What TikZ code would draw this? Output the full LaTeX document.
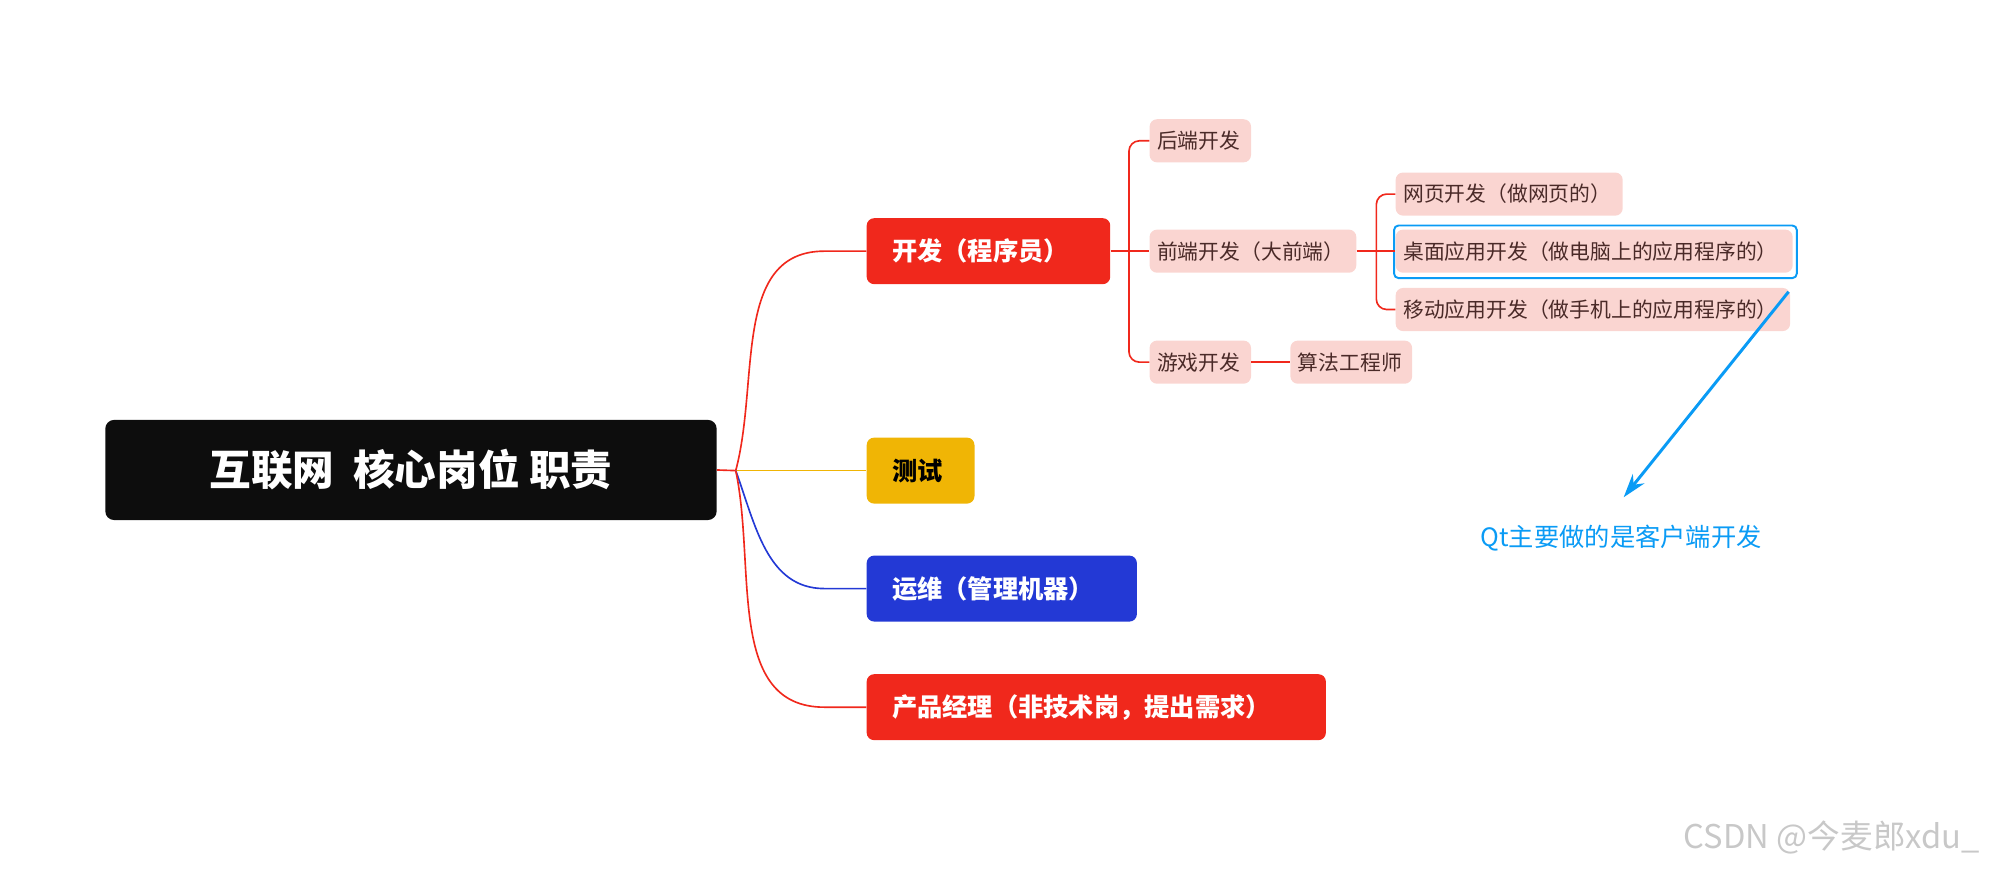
\documentclass[tikz,border=0pt]{standalone}
\usepackage{fontspec}
\setmainfont{Noto Sans CJK SC}
\usetikzlibrary{arrows.meta}
\definecolor{cred}{HTML}{F0281C}
\definecolor{cpink}{HTML}{FAD5D1}
\definecolor{cptext}{HTML}{4A2A28}
\definecolor{cyel}{HTML}{F0B505}
\definecolor{cblue}{HTML}{2339D5}
\definecolor{carrow}{HTML}{0A9BF5}
\definecolor{cwm}{HTML}{C8C8C8}
\tikzset{
 lone/.style={rounded corners=5pt,anchor=west,minimum height=1.56cm,inner xsep=0.6cm,align=left,font=\fontsize{17}{20}\selectfont\bfseries,text=white},
 pk/.style={fill=cpink,rounded corners=5pt,anchor=west,minimum height=1.02cm,inner xsep=0.18cm,font=\fontsize{14}{16}\selectfont,text=cptext,align=left},
 rl/.style={draw=cred,line width=1.1pt},
}
\begin{document}
\begin{tikzpicture}
\useasboundingbox (0,0) rectangle (47.04,-20.61);
\node[fill=black!95,rounded corners=6pt,minimum width=14.46cm,minimum height=2.37cm,text=white,font=\fontsize{28}{32}\selectfont\bfseries] (root) at (9.72,-11.115) {互联网\ \ 核心岗位 职责};
\node[lone,fill=cred,text width=4.56cm] (kf) at (20.49,-5.94) {开发（程序员）};
\node[lone,fill=cyel,text=black,text width=1.35cm] (cs) at (20.49,-11.13) {测试};
\node[lone,fill=cblue,text width=5.19cm] (yw) at (20.49,-13.92) {运维（管理机器）};
\node[lone,fill=cred,text width=9.66cm] (cp) at (20.49,-16.725) {产品经理（非技术岗，提出需求）};
\coordinate (j) at (17.4,-11.13);
\draw[rl] (root.east) -- (j);
\draw[rl] (j) to[out=75,in=180] (19.5,-5.94) -- (kf.west);
\draw[draw=cyel,line width=1.1pt] (j) -- (cs.west);
\draw[draw=cblue,line width=1.1pt] (j) to[out=-70,in=180] (19.5,-13.92) -- (yw.west);
\draw[rl] (j) to[out=-78,in=180] (19.5,-16.725) -- (cp.west);
\node[pk,text width=2.04cm] (hd) at (27.18,-3.33) {后端开发};
\node[pk,text width=4.53cm] (qd) at (27.18,-5.94) {前端开发（大前端）};
\node[pk,text width=2.04cm] (yx) at (27.18,-8.565) {游戏开发};
\node[pk,text width=2.52cm] (sf) at (30.51,-8.565) {算法工程师};
\node[pk,text width=5.01cm] (wy) at (33.0,-4.59) {网页开发（做网页的）};
\node[pk,text width=9.03cm] (zm) at (33.0,-5.94) {桌面应用开发（做电脑上的应用程序的）};
\node[pk,text width=8.97cm] (yd) at (33.0,-7.32) {移动应用开发（做手机上的应用程序的）};
\draw[carrow,line width=1.3pt,rounded corners=3pt] ([shift={(-0.03,0.09)}]zm.north west) rectangle ([shift={(0.09,-0.12)}]zm.south east);
\coordinate (b1) at (26.7,-5.94);
\coordinate (b2) at (32.55,-5.94);
\draw[rl] (kf.east) -- (qd.west);
\draw[rl,rounded corners=7pt] (hd.west) -| (b1) |- (yx.west);
\draw[rl] (yx.east) -- (sf.west);
\draw[rl] (qd.east) -- (zm.west);
\draw[rl,rounded corners=7pt] (wy.west) -| (b2) |- (yd.west);
\coordinate (a1) at (42.3,-6.9);
\coordinate (a2) at (38.4,-11.76);
\draw[carrow,line width=2pt,-{Stealth[length=16pt,width=10pt]}] (a1) -- (a2);
\node[text=carrow,font=\fontsize{17}{20}\selectfont] (qt) at (38.34,-12.72) {Qt主要做的是客户端开发};
\node[text=cwm,font=\fontsize{22}{26}\selectfont,anchor=east] (wm) at (46.95,-19.8) {CSDN @今麦郎xdu\_};
\end{tikzpicture}
\end{document}
